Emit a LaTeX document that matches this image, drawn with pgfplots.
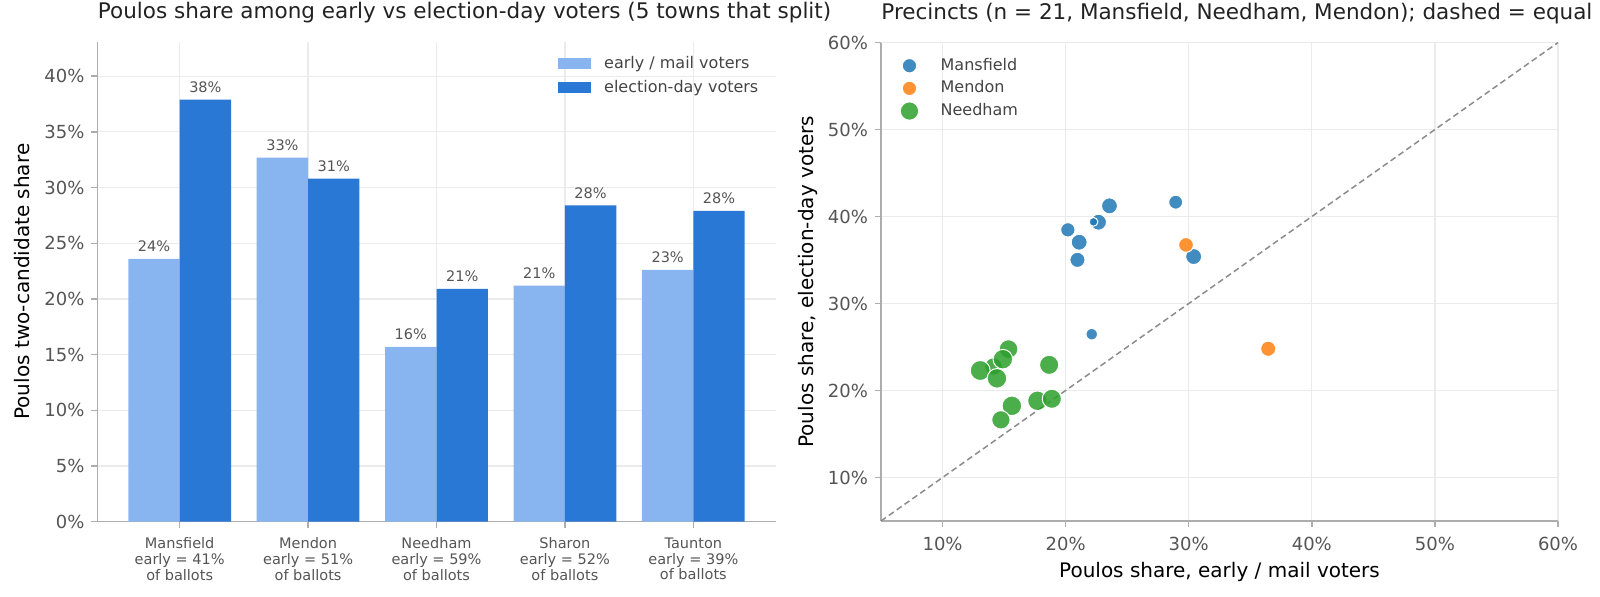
\documentclass[border=0pt]{standalone}
\usepackage{fontspec}
\setmainfont{DejaVu Sans}
\usepackage{pgfplots}
\pgfplotsset{compat=1.18}

\definecolor{early}{HTML}{88B5EF}
\definecolor{eday}{HTML}{2A78D6}
\definecolor{tblue}{HTML}{1F77B4}
\definecolor{torange}{HTML}{FF7F0E}
\definecolor{tgreen}{HTML}{2CA02C}
\definecolor{spine}{HTML}{ADADAD}
\definecolor{gridc}{HTML}{EBEBEB}
\definecolor{tickc}{HTML}{555555}
\definecolor{labc}{HTML}{444444}
\definecolor{titc}{HTML}{222222}

\pgfplotsset{
  mpl/.style={
    scale only axis,
    axis x line*=bottom, axis y line*=left,
    axis line style={draw=spine, line width=0.75pt, -},
    tick align=outside, major tick length=3pt,
    every tick/.style={draw=spine, line width=0.75pt},
    grid style={draw=gridc, line width=0.6pt},
    ticklabel style={font=\fontsize{9}{10.8}\selectfont, text=tickc},
    /pgf/number format/assume math mode=true,
    enlargelimits=false,
    label style={font=\fontsize{9.7}{11.6}\selectfont, text=labc},
    every axis y label/.style={at={(axis description cs:-0.0996,0.5)}, anchor=base, rotate=90},
    title style={at={(axis description cs:0,1)}, anchor=base west, inner sep=0pt,
      yshift=5.5pt, font=\fontsize{10.75}{12.9}\selectfont, text=titc},
  },
}

\begin{document}
\begin{tikzpicture}
\useasboundingbox (0,0) rectangle (800pt,298.5pt);

% left: bars by town
\begin{axis}[mpl,
  at={(48.75pt,37.65pt)}, anchor=south west,
  width=339pt, height=240pt,
  xmin=-0.64, xmax=4.64, ymin=0, ymax=43.1,
  xtick={0,1,2,3,4},
  xticklabels={{Mansfield\\early = 41\%\\of ballots},
               {Mendon\\early = 51\%\\of ballots},
               {Needham\\early = 59\%\\of ballots},
               {Sharon\\early = 52\%\\of ballots},
               {Taunton\\early = 39\%\\of ballots}},
  xticklabel style={align=center, font=\fontsize{7.25}{7.9}\selectfont, yshift=-1.5pt},
  ytick={0,5,...,40},
  yticklabel={\pgfmathprintnumber{\tick}\%},
  xmajorgrids, ymajorgrids,
  ylabel={Poulos two-candidate share},
  title={Poulos share among early vs election-day voters (5 towns that split)},
  ybar, bar width=0.4,
  nodes near coords={\pgfmathprintnumber[fixed,precision=0]{\pgfplotspointmeta}\%},
  every node near coord/.append style={font=\fontsize{7.25}{8.7}\selectfont, text=tickc},
  legend style={at={(axis description cs:0.670,0.988)}, anchor=north west,
    draw=none, fill=none, font=\fontsize{8}{9.6}\selectfont, text=labc,
    row sep=0.45pt, /tikz/every odd column/.append style={column sep=4.5pt}},
  legend cell align=left,
]
\addplot[draw=none, fill=early, bar shift=-0.2,
  legend image code/.code={\fill[early] (0pt,-2.75pt) rectangle (16.5pt,2.75pt);}]
  coordinates {(0,23.6) (1,32.7) (2,15.7) (3,21.2) (4,22.6)};
\addlegendentry{early / mail voters}
\addplot[draw=none, fill=eday, bar shift=0.2,
  legend image code/.code={\fill[eday] (0pt,-2.75pt) rectangle (16.5pt,2.75pt);}]
  coordinates {(0,37.9) (1,30.8) (2,20.9) (3,28.4) (4,27.9)};
\addlegendentry{election-day voters}
\end{axis}

% right: precincts scatter
\begin{axis}[mpl,
  at={(440.5pt,38pt)}, anchor=south west,
  width=338.5pt, height=239.2pt,
  xmin=5, xmax=60, ymin=5, ymax=60,
  xtick={10,20,...,60}, ytick={10,20,...,60},
  xticklabel={\pgfmathprintnumber{\tick}\%},
  yticklabel={\pgfmathprintnumber{\tick}\%},
  xticklabel style={yshift=-1.5pt},
  xmajorgrids, ymajorgrids,
  xlabel={Poulos share, early / mail voters},
  ylabel={Poulos share, election-day voters},
  every axis x label/.style={at={(axis description cs:0.5,0)}, anchor=base, yshift=-28.5pt},
  title={Precincts (n = 21, Mansfield, Needham, Mendon); dashed = equal},
  legend style={at={(axis description cs:0.019,0.985)}, anchor=north west,
    draw=none, fill=none, font=\fontsize{8}{9.6}\selectfont, text=labc,
    row sep=-0.25pt, /tikz/every odd column/.append style={column sep=9pt}},
  legend cell align=left,
  clip=false,
]
\addplot[forget plot, draw=gray!90, line width=0.75pt, dash pattern=on 3pt off 1.8pt]
  coordinates {(5,5) (60,60)};

\addlegendimage{only marks, mark=*, mark size=3.6pt, mark options={draw=white, line width=0.5pt, fill=tblue, fill opacity=0.85}}
\addlegendentry{Mansfield}
\addlegendimage{only marks, mark=*, mark size=3.6pt, mark options={draw=white, line width=0.5pt, fill=torange, fill opacity=0.85}}
\addlegendentry{Mendon}
\addlegendimage{only marks, mark=*, mark size=4.6pt, mark options={draw=white, line width=0.5pt, fill=tgreen, fill opacity=0.85}}
\addlegendentry{Needham}

% Mansfield
\addplot[forget plot, scatter, only marks, mark=*,
  scatter/use mapped color={draw=white, fill=tblue},
  mark options={line width=0.5pt, fill opacity=0.85},
  visualization depends on={\thisrow{r} \as \rr},
  scatter/@pre marker code/.append style={/tikz/mark size=\rr}]
  table {
x y r
23.56 41.23 4.0
28.94 41.65 3.5
22.67 39.35 4.0
22.26 39.39 2.2
20.18 38.47 3.6
21.10 37.05 4.0
20.96 35.02 3.8
30.40 35.40 4.0
22.12 26.47 2.9
};
% Mendon
\addplot[forget plot, scatter, only marks, mark=*,
  scatter/use mapped color={draw=white, fill=torange},
  mark options={line width=0.5pt, fill opacity=0.85},
  visualization depends on={\thisrow{r} \as \rr},
  scatter/@pre marker code/.append style={/tikz/mark size=\rr}]
  table {
x y r
29.78 36.74 3.7
36.46 24.80 3.8
};
% Needham
\addplot[forget plot, scatter, only marks, mark=*,
  scatter/use mapped color={draw=white, fill=tgreen},
  mark options={line width=0.5pt, fill opacity=0.85},
  visualization depends on={\thisrow{r} \as \rr},
  scatter/@pre marker code/.append style={/tikz/mark size=\rr}]
  table {
x y r
14.14 22.76 4.4
15.36 24.76 4.7
14.90 23.60 4.9
13.06 22.30 5.0
14.42 21.40 4.9
18.66 22.95 4.8
15.63 18.24 4.9
14.74 16.63 4.6
17.71 18.82 4.9
18.88 19.05 4.8
};
\end{axis}
\end{tikzpicture}
\end{document}
